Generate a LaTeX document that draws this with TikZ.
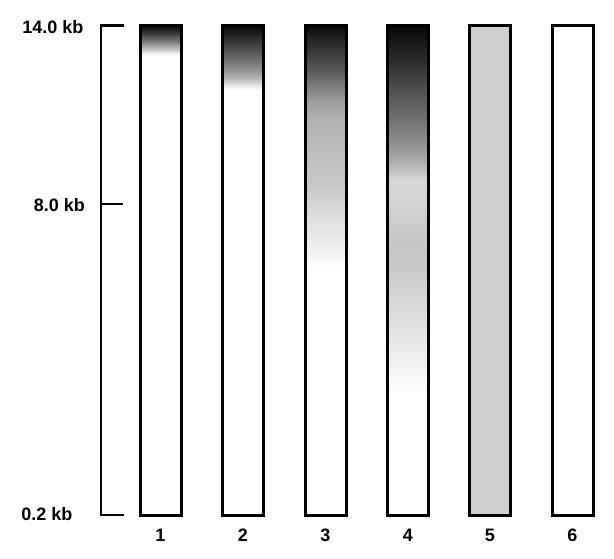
\documentclass[tikz,border=0pt]{standalone}
\usepackage{fontspec}
\setmainfont{Liberation Sans}
\definecolor{lanefive}{RGB}{208,206,206}
\pgfdeclareverticalshading{laneone}{100bp}{color(0bp)=(white); color(71.84bp)=(white); color(72.15bp)=(black!5); color(72.76bp)=(black!30); color(73.47bp)=(black!55); color(74.29bp)=(black!80); color(75bp)=(black!97); color(100bp)=(black!97)}
\pgfdeclareverticalshading{lanetwo}{100bp}{color(0bp)=(white); color(68.38bp)=(white); color(68.89bp)=(black!9); color(69.70bp)=(black!31); color(71.44bp)=(black!56); color(73.47bp)=(black!80); color(75bp)=(black!97); color(100bp)=(black!97)}
\pgfdeclareverticalshading{lanethree}{100bp}{color(0bp)=(white); color(50.25bp)=(white); color(51.78bp)=(black!5); color(55.14bp)=(black!12); color(58.50bp)=(black!21); color(62.27bp)=(black!26); color(65.63bp)=(black!31); color(67.06bp)=(black!37); color(68.69bp)=(black!50); color(70.42bp)=(black!65); color(73.47bp)=(black!85); color(75bp)=(black!97); color(100bp)=(black!97)}
\pgfdeclareverticalshading{lanefour}{100bp}{color(0bp)=(white); color(37.32bp)=(white); color(38.34bp)=(black!2); color(40.89bp)=(black!6); color(43.94bp)=(black!11); color(47.00bp)=(black!16); color(50.05bp)=(black!21); color(53.11bp)=(black!22); color(57.18bp)=(black!17); color(59.22bp)=(black!16); color(60.95bp)=(black!30); color(62.27bp)=(black!40); color(65.33bp)=(black!55); color(68.69bp)=(black!70); color(71.44bp)=(black!83); color(75bp)=(black!97); color(100bp)=(black!97)}
\tikzset{
  lanebox/.style={draw=black, line width=3pt},
  scalebar/.style={draw=black, line width=2.5pt},
  lbl/.style={font=\fontsize{18}{20}\selectfont\bfseries, inner sep=0pt},
}
\begin{document}
\begin{tikzpicture}[x=1pt,y=-1pt]
\useasboundingbox (0,0) rectangle (614,559);
% scale bar
\coordinate (st) at (101,25.5);
\coordinate (sm) at (101,204);
\coordinate (sb) at (101,515);
\draw[scalebar, line cap=rect] (123,25.5) -- (st) -- (sb) -- (123,515);
\draw[scalebar] (sm) -- (123,204);
\node[lbl, anchor=east] (l14) at (83.5,27.5) {14.0 kb};
\node[lbl, anchor=east] (l8) at (85,205) {8.0 kb};
\node[lbl, anchor=east] (l02) at (72.5,514) {0.2 kb};
% lanes
\foreach \i/\sh in {1/laneone,2/lanetwo,3/lanethree,4/lanefour}{
  \pgfmathsetmacro{\cx}{160.5+82.5*(\i-1)}
  \shade[shading=\sh] (\cx-20.5,25.5) rectangle (\cx+20.5,515.5);
  \draw[lanebox] (\cx-20.5,25.5) rectangle (\cx+20.5,515.5);
  \node[lbl] (n\i) at (\cx,535) {\i};
}
\fill[lanefive] (469.5,25.5) rectangle (510.5,515.5);
\draw[lanebox] (469.5,25.5) rectangle (510.5,515.5);
\node[lbl] (n5) at (490,535) {5};
\draw[lanebox] (552,25.5) rectangle (593,515.5);
\node[lbl] (n6) at (572.5,535) {6};
\end{tikzpicture}
\end{document}
